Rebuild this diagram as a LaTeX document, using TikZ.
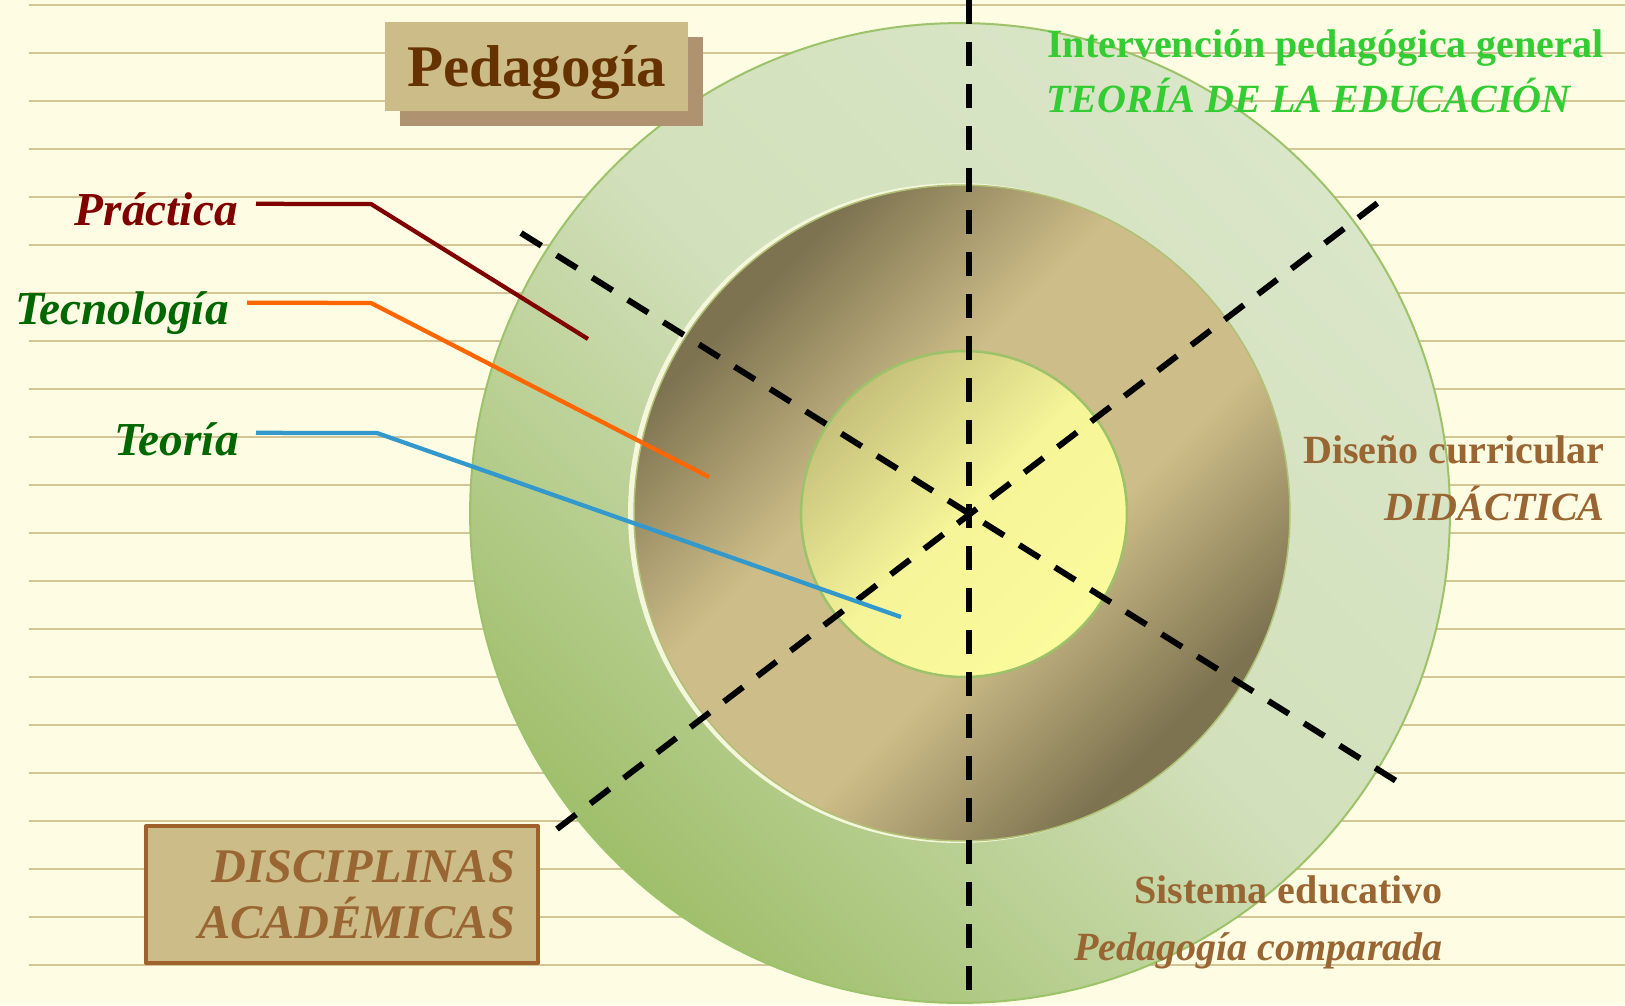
\documentclass[tikz,border=0pt]{standalone}
\usepackage{fontspec}
\setmainfont{Liberation Serif}
\usetikzlibrary{shadows}
\definecolor{paper}{HTML}{FEFCE3}
\definecolor{rulecol}{HTML}{D4C597}
\definecolor{ringlight}{HTML}{DAE6C8}
\definecolor{ringmid}{HTML}{D2E0BB}
\definecolor{ringdark}{HTML}{A0BF6B}
\definecolor{browndark}{HTML}{7D7350}
\definecolor{brownlight}{HTML}{CDBD88}
\definecolor{yellowdark}{HTML}{C6C07B}
\definecolor{yellowlight}{HTML}{FBFB9C}
\definecolor{edgegreen}{HTML}{9CC36A}
\definecolor{boxfill}{HTML}{CCBC87}
\definecolor{boxshade}{HTML}{AF9371}
\definecolor{boxrim}{HTML}{A0622D}
\definecolor{darkbrown}{HTML}{663300}
\definecolor{textbrown}{HTML}{996633}
\definecolor{brightgreen}{HTML}{33CC33}
\definecolor{darkgreen}{HTML}{006600}
\definecolor{darkred}{HTML}{800000}
\definecolor{orangeline}{HTML}{FF6600}
\definecolor{blueline}{HTML}{3399CC}
\pgfdeclareverticalshading{browndisk}{100bp}{color(0bp)=(browndark); color(27bp)=(browndark);
	color(42bp)=(brownlight); color(58bp)=(brownlight); color(73bp)=(browndark); color(100bp)=(browndark)}
\begin{document}
\begin{tikzpicture}[x=0.02cm, y=-0.02cm, line join=round]
	\tikzset{
		rulestyle/.style={draw=rulecol, line width=0.05cm},
		sectorline/.style={line width=0.12cm, dash pattern=on 0.48cm off 0.36cm},
		leader/.style={line width=0.085cm},
		leftlabel/.style={anchor=base east, inner sep=0pt, font=\fontsize{26.9}{30}\selectfont\bfseries\itshape},
		sidetext/.style={inner sep=0pt, text=textbrown, font=\fontsize{22.8}{26}\selectfont\bfseries},
		sideital/.style={sidetext, font=\fontsize{22.8}{26}\selectfont\bfseries\itshape},
		pedbox/.style={anchor=north west, fill=boxfill, text=darkbrown, inner sep=0pt,
			minimum width=6.06cm, text height=1.28cm, text depth=0.5cm,
			general shadow={fill=boxshade, shadow xshift=0.3cm, shadow yshift=-0.3cm},
			font=\fontsize{33.6}{38}\selectfont\bfseries},
		discbox/.style={anchor=north west, draw=boxrim, line width=0.08cm, fill=boxfill,
			text=textbrown, align=right, text width=6.92cm, inner xsep=0.46cm, inner ysep=0pt,
			text height=1.12cm, text depth=1.62cm, font=\fontsize{27.5}{32.4}\selectfont\bfseries\itshape}
	}
	\useasboundingbox (0,0) rectangle (1625,1005);
	\fill[paper] (0,0) rectangle (1625,1005);
	% ruled paper
	\foreach \k in {0,...,20}
	\draw[rulestyle] (29,{5+48*\k}) -- (1625,{5+48*\k});
	% the three disks
	\shade[top color=ringlight, bottom color=ringdark, middle color=ringmid, shading angle=-45] (960,513) circle[radius=9.8cm];
	\draw[edgegreen, line width=0.04cm] (960,513) circle[radius=9.8cm];
	\fill[paper!75!ringlight] (958,513) circle[radius=6.6cm];
	\shade[shading=browndisk, shading angle=45] (962,513) circle[radius=6.56cm];
	\draw[edgegreen!60!brownlight, line width=0.03cm] (962,513) circle[radius=6.56cm];
	\shade[top color=yellowdark, bottom color=yellowlight, middle color=yellowlight!90!yellowdark, shading angle=45] (964,514) circle[radius=3.26cm];
	\draw[edgegreen, line width=0.05cm] (964,514) circle[radius=3.26cm];
	% dashed sectors
	\draw[sectorline] (969,0) -- (969,1005);
	\draw[sectorline] (521,233) -- (1409,789);
	\draw[sectorline] (557,829) -- (1388,195);
	% labels on the left
	\node[leftlabel, text=darkred] (practica) at (238,225) {Práctica};
	\node[leftlabel, text=darkgreen] (tecnologia) at (229,324) {Tecnología};
	\node[leftlabel, text=darkgreen] (teoria) at (239,455) {Teoría};
	\coordinate (praend) at (588,339);
	\coordinate (tecend) at (709,477);
	\coordinate (teoend) at (901,617);
	\draw[leader, darkred] ([xshift=0.36cm,yshift=0.1cm]practica.east) -- (371,204) -- (praend);
	\draw[leader, orangeline] ([xshift=0.36cm,yshift=0.2cm]tecnologia.east) -- (371,303) -- (tecend);
	\draw[leader, blueline] ([xshift=0.34cm,yshift=0.12cm]teoria.east) -- (377,433) -- (teoend);
	% texts on the right
	\node[sidetext, text=brightgreen, anchor=base west] (intervencion) at (1047,57) {Intervención pedagógica general};
	\node[sideital, text=brightgreen, anchor=base west] (teoriaed) at (1046,112) {TEORÍA DE LA EDUCACIÓN};
	\node[sidetext, anchor=base east] (diseno) at (1605,463) {Diseño curricular};
	\node[sideital, anchor=base east] (didactica) at (1605,520) {DIDÁCTICA};
	\node[sidetext, anchor=base east] (sistema) at (1443,903) {Sistema educativo};
	\node[sideital, anchor=base east] (comparada) at (1443,960) {Pedagogía comparada};
	% boxes
	\node[pedbox] (pedagogia) at (385,22) {Pedagogía};
	\node[discbox] (disciplinas) at (144,824) {DISCIPLINAS\\ACADÉMICAS};
\end{tikzpicture}
\end{document}
